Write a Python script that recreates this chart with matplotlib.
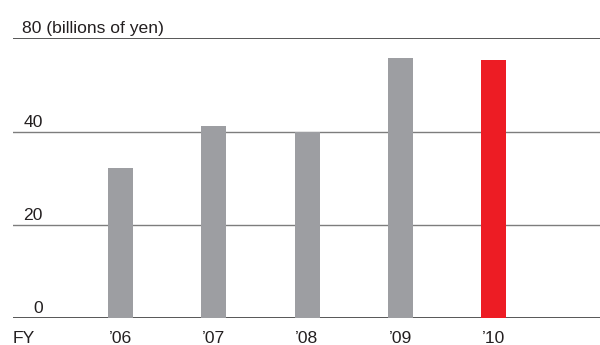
#!/usr/bin/env python3

import matplotlib
matplotlib.use('Agg')
import matplotlib.pyplot as plt

# ------------------------------------------
# Data
# ------------------------------------------
years = ['\u201906', '\u201907', '\u201908', '\u201909', '\u201910']
values = [32.2, 41.2, 40.0, 55.8, 55.4]
bar_colors = ['#9d9ea2', '#9d9ea2', '#9d9ea2', '#9d9ea2', '#ed1c24']

grid_values = [0, 20, 40, 60]
grid_labels = ['0', '20', '40', '80']
unit_label = ' (billions of yen)'


def main():

    # ------------------------------------------
    # Initialization
    # ------------------------------------------
    plt.rcParams['font.family'] = ['Liberation Sans', 'DejaVu Sans']

    fig = plt.figure(figsize=(6.0, 3.45), dpi=100)
    ax = fig.add_axes([13 / 600, 27 / 345, 587 / 600, 279.7 / 345])
    ax.set_xlim(-1.153, 5.142)
    ax.set_ylim(0, 60)
    ax.axis('off')

    # ------------------------------------------
    # Execution
    # ------------------------------------------
    # Horizontal rules: dark at bottom/top, grey in between
    for v in grid_values:
        if v in (grid_values[0], grid_values[-1]):
            ax.axhline(v, color='#3a3a3a', linewidth=1.2, zorder=1)
        else:
            ax.axhline(v, color='#7d7d7d', linewidth=1.0, zorder=1)

    # Bars
    xs = list(range(len(years)))
    ax.bar(xs, values, width=0.268, color=bar_colors, zorder=2)

    # Value labels above each rule, right aligned
    ytrans = ax.get_yaxis_transform()
    for v, lab in zip(grid_values, grid_labels):
        txt = lab + unit_label if v == grid_values[-1] else lab
        ha = 'left' if v == grid_values[-1] else 'right'
        xpos = 9.5 / 587 if v == grid_values[-1] else 29.9 / 587
        ax.annotate(txt, xy=(xpos, v), xycoords=ytrans,
                    xytext=(0, 3.6), textcoords='offset points',
                    ha=ha, va='baseline', fontsize=12.6, color='#231f20')

    # Year labels below the axis
    xtrans = ax.get_xaxis_transform()
    ax.annotate('FY', xy=(-1.153, 0), xycoords=xtrans,
                xytext=(0, -18), textcoords='offset points',
                ha='left', va='baseline', fontsize=12.6, color='#231f20')
    for x, y in zip(xs, years):
        ax.annotate(y, xy=(x, 0), xycoords=xtrans,
                    xytext=(0, -18), textcoords='offset points',
                    ha='center', va='baseline', fontsize=12.6, color='#231f20')

    fig.savefig('out.png', dpi=100)

    # ------------------------------------------
    # Termination
    # ------------------------------------------


if __name__ == "__main__":
    main()
